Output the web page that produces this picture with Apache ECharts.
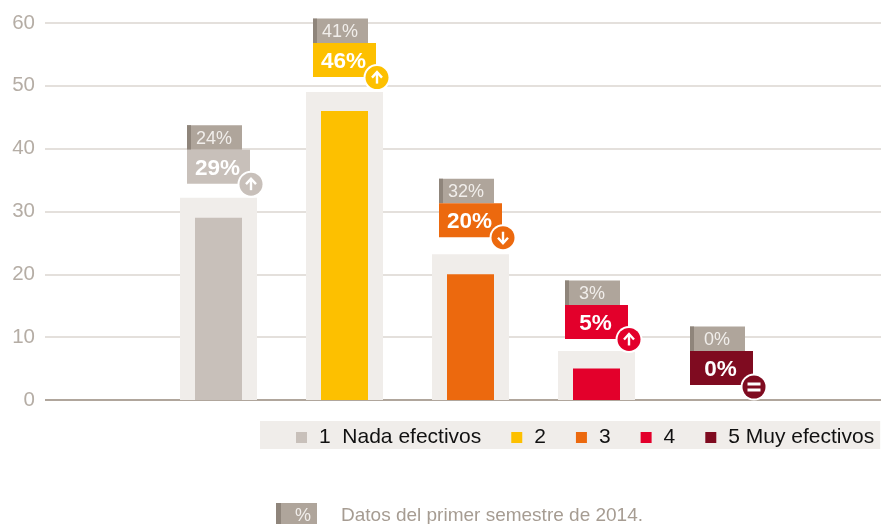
<!DOCTYPE html>
<html><head><meta charset="utf-8">
<style>html,body{margin:0;padding:0;background:#fff}#c{width:881px;height:524px}</style>
<script src="https://cdn.jsdelivr.net/npm/echarts@6/dist/echarts.min.js"></script>
</head><body><div id="c"></div>
<script>
const categories = ['1  Nada efectivos', '2', '3', '4', '5 Muy efectivos'];
const current = [29, 46, 20, 5, 0];
const previous2013 = [32.2, 49, 23.2, 7.8, 0];
const labelPrev = ['24%', '41%', '32%', '3%', '0%'];
const labelCurr = ['29%', '46%', '20%', '5%', '0%'];
const trend = ['up', 'up', 'down', 'up', 'equal'];
const colors = ['#c8c0ba', '#fdc000', '#ec690e', '#e3002b', '#7f0b20'];
const yTicks = { min: 0, max: 60, interval: 10 };
const noteTag = '%';
const noteText = 'Datos del primer semestre de 2014.';

const FONT = '"Liberation Sans", Arial, sans-serif';
const BAND = 126, FIRST = 218.5, LEFT = 45, W = 881;
const nudgeY = [1, 0, -2, 3, 0];
const nudgeX = [0, 0, 0, 0, -1];

function renderBadge(params, api) {
  const i = api.value(0);
  const p = api.coord([i, api.value(1)]);
  const cx = p[0] + nudgeX[i], bottom = p[1] - 15 + nudgeY[i];
  const colorTop = bottom - 34, greyTop = colorTop - 24.5;
  const left = cx - 31.5, c = colors[i];
  const bx = left + 64, by = bottom + (i === 4 ? 2 : 0.5);
  const ch = [
    { type: 'rect', shape: { x: left, y: greyTop, width: 55, height: 24.5 }, style: { fill: '#afa59b' } },
    { type: 'rect', shape: { x: left, y: greyTop, width: 4, height: 24.5 }, style: { fill: '#8f857b' } },
    { type: 'text', style: { x: left + 27, y: greyTop + 13.5, text: labelPrev[i], fill: '#f1eeeb', font: '18px ' + FONT, align: 'center', verticalAlign: 'middle' } },
    { type: 'rect', shape: { x: left, y: colorTop, width: 63, height: 34 }, style: { fill: c } },
    { type: 'text', style: { x: left + 30.5, y: colorTop + 19, text: labelCurr[i], fill: '#fff', font: 'bold 22.5px ' + FONT, align: 'center', verticalAlign: 'middle' } },
    { type: 'circle', shape: { cx: bx, cy: by, r: 13.5 }, style: { fill: '#fff' } },
    { type: 'circle', shape: { cx: bx, cy: by, r: 11.5 }, style: { fill: c } }
  ];
  const line = { stroke: '#fff', fill: null, lineWidth: 2.4 };
  if (trend[i] === 'equal') {
    ch.push({ type: 'rect', shape: { x: bx - 6.5, y: by - 4.5, width: 13, height: 3 }, style: { fill: '#fff' } });
    ch.push({ type: 'rect', shape: { x: bx - 6.5, y: by + 1.5, width: 13, height: 3 }, style: { fill: '#fff' } });
  } else {
    const d = trend[i] === 'up' ? 1 : -1;
    ch.push({ type: 'polyline', shape: { points: [[bx, by + 6 * d], [bx, by - 5 * d]] }, style: line });
    ch.push({ type: 'polyline', shape: { points: [[bx - 5, by], [bx, by - 5.5 * d], [bx + 5, by]] }, style: line });
  }
  return { type: 'group', children: ch };
}

const series = [{
  name: 'back', type: 'bar', xAxisIndex: 1, barWidth: 77, silent: true, z: 1,
  itemStyle: { color: '#f0edea' },
  data: previous2013.map((v, i) => [i, v])
}];
categories.forEach((name, k) => series.push({
  name, type: 'bar', barWidth: 47, barGap: '-100%', z: 2,
  itemStyle: { color: colors[k] },
  data: [[k, current[k]]]
}));
series.push({
  name: 'badges', type: 'custom', z: 5, clip: false,
  renderItem: renderBadge,
  data: previous2013.map((v, i) => [i, v])
});

const xMin = (LEFT - FIRST) / BAND, xMax = (W - FIRST) / BAND;
const chart = echarts.init(document.getElementById('c'), null, { renderer: 'canvas' });
chart.setOption({
  animation: false,
  backgroundColor: '#fff',
  grid: { left: LEFT, right: 0, top: 23, bottom: 124, containLabel: false },
  xAxis: [
    { type: 'value', show: false, min: xMin, max: xMax },
    { type: 'value', show: false, min: xMin, max: xMax }
  ],
  yAxis: {
    type: 'value', min: yTicks.min, max: yTicks.max, interval: yTicks.interval,
    axisLine: { show: false }, axisTick: { show: false },
    axisLabel: { color: '#b5ada5', fontFamily: FONT, fontSize: 20.5, margin: 10, padding: [2, 0, 0, 0] },
    splitLine: { lineStyle: { color: '#e4e0dc', width: 2 } }
  },
  legend: {
    data: categories, left: 260, top: 421, width: 800, itemWidth: 11, itemHeight: 11, itemGap: 30,
    icon: 'rect', padding: [6, 6, 1, 36], backgroundColor: '#f0edea', selectedMode: false,
    textStyle: { color: '#111', fontFamily: FONT, fontSize: 21, padding: [0, 0, 0, 7] }
  },
  graphic: [
    { type: 'rect', z: 1, shape: { x: LEFT, y: 399, width: W - LEFT, height: 2 }, style: { fill: '#b0a69c' } },
    { type: 'rect', shape: { x: 276, y: 503, width: 41, height: 21 }, style: { fill: '#afa59b' } },
    { type: 'rect', shape: { x: 276, y: 503, width: 5, height: 21 }, style: { fill: '#8f857b' } },
    { type: 'text', style: { x: 303, y: 516, text: noteTag, fill: '#f1eeeb', font: '18px ' + FONT, align: 'center', verticalAlign: 'middle' } },
    { type: 'text', style: { x: 341, y: 516, text: noteText, fill: '#a69c92', font: '19px ' + FONT, align: 'left', verticalAlign: 'middle' } }
  ],
  series
});
</script></body></html>
